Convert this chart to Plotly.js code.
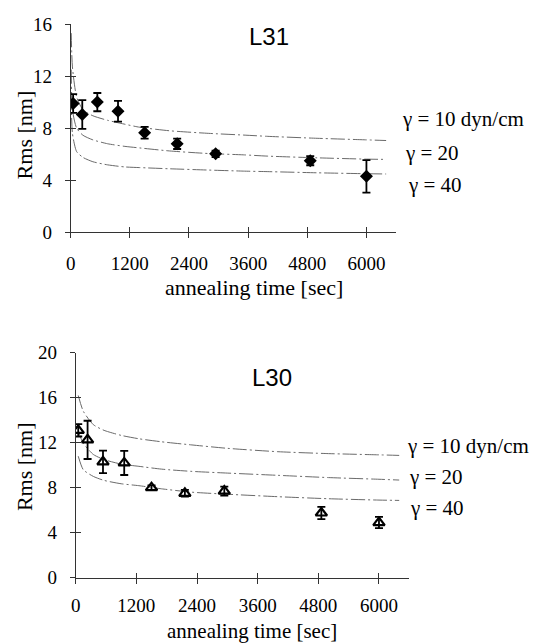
<!DOCTYPE html>
<html>
<head>
<meta charset="utf-8">
<script src="https://cdn.plot.ly/plotly-3.0.1.min.js"></script>
<style>html,body{margin:0;padding:0;background:#fff;}#chart{width:543px;height:643px;}</style>
</head>
<body>
<div id="chart"></div>
<script>
// ---------- data ----------
// L31 measurements (diamonds)
const timeL31 = [50, 235, 540, 960, 1500, 2160, 2940, 4860, 6000];
const rmsL31  = [9.9, 9.05, 10.0, 9.3, 7.65, 6.8, 6.03, 5.5, 4.3];
const errL31  = [0.72, 1.1, 0.7, 0.8, 0.45, 0.4, 0.25, 0.35, 1.25];
// L31 model curves
const curveTimeL31 = [10, 35, 120, 250, 450, 750, 1100, 1400, 2000, 2800, 3500, 4000, 5000, 6000, 6400];
const g10L31 = [15.3, 12.7, 10.4, 9.4, 8.95, 8.6, 8.3, 8.07, 7.8, 7.6, 7.47, 7.37, 7.22, 7.1, 7.05];
const g20L31 = [12.5, 9.4, 8.0, 7.45, 7.1, 6.8, 6.6, 6.48, 6.25, 6.05, 5.95, 5.85, 5.72, 5.62, 5.6];
const g40L31 = [10.5, 7.6, 6.2, 5.75, 5.42, 5.18, 5.02, 4.97, 4.88, 4.78, 4.7, 4.66, 4.57, 4.5, 4.48];

// L30 measurements (open triangles)
const timeL30 = [50, 235, 540, 960, 1500, 2160, 2940, 4860, 6000];
const rmsL30  = [13.1, 12.25, 10.3, 10.2, 8.0, 7.5, 7.7, 5.75, 4.9];
const errL30  = [0.55, 1.7, 1.0, 1.07, 0.2, 0.3, 0.4, 0.55, 0.5];
// L30 model curves
const curveTimeL30 = [50, 150, 350, 560, 900, 1250, 1700, 2300, 3000, 4000, 5000, 6000, 6400];
const g10L30 = [16.2, 14.8, 13.6, 13.1, 12.65, 12.35, 12.08, 11.8, 11.5, 11.2, 11.03, 10.92, 10.87];
const g20L30 = [13.0, 11.95, 10.95, 10.5, 10.1, 9.9, 9.65, 9.45, 9.3, 9.1, 8.9, 8.75, 8.68];
const g40L30 = [10.8, 9.6, 9.0, 8.65, 8.35, 8.18, 7.9, 7.6, 7.42, 7.2, 7.02, 6.9, 6.87];

const xTicks = [0, 1200, 2400, 3600, 4800, 6000];
const yTicksL31 = [0, 4, 8, 12, 16];
const yTicksL30 = [0, 4, 8, 12, 16, 20];
const curveLabels = ['γ = 10 dyn/cm', 'γ = 20', 'γ = 40'];

// ---------- styling ----------
const W = 543, H = 643;
const px = v => v / W, py = v => 1 - v / H;
const serif = '"Liberation Serif", "Times New Roman", serif';
const sans = '"Liberation Sans", Arial, sans-serif';
const curveLine = {color: '#6a6a6a', width: 1, dash: '14px,3px,2px,3px', shape: 'spline', smoothing: 0.6};

function curve(x, y, xa, ya) {
  return {x: x, y: y, xaxis: xa, yaxis: ya, mode: 'lines', line: curveLine,
          hoverinfo: 'skip', showlegend: false};
}

const traces = [
  curve(curveTimeL31, g10L31, 'x', 'y'),
  curve(curveTimeL31, g20L31, 'x', 'y'),
  curve(curveTimeL31, g40L31, 'x', 'y'),
  {x: timeL31, y: rmsL31, xaxis: 'x', yaxis: 'y', mode: 'markers', showlegend: false,
   marker: {symbol: 'diamond', size: 10, color: '#000'},
   error_y: {type: 'data', array: errL31, visible: true, color: '#000', thickness: 1.8, width: 4}},
  curve(curveTimeL30, g10L30, 'x2', 'y2'),
  curve(curveTimeL30, g20L30, 'x2', 'y2'),
  curve(curveTimeL30, g40L30, 'x2', 'y2'),
  {x: timeL30, y: rmsL30, xaxis: 'x2', yaxis: 'y2', mode: 'markers', showlegend: false,
   marker: {symbol: 'triangle-up-open', size: 10, color: '#000', line: {width: 2.2, color: '#000'}},
   error_y: {type: 'data', array: errL30, visible: true, color: '#000', thickness: 1.8, width: 4}},
  // dummy traces to create the "inside" tick overlay axes (cross ticks)
  {x: [null], y: [null], xaxis: 'x3', yaxis: 'y3', mode: 'markers', showlegend: false, hoverinfo: 'skip'},
  {x: [null], y: [null], xaxis: 'x4', yaxis: 'y4', mode: 'markers', showlegend: false, hoverinfo: 'skip'}
];

const tickFont = {family: serif, size: 19, color: '#000'};
function baseX(domain, anchor, standoff) {
  return {domain: domain, anchor: anchor, range: [0, 6600], tickvals: xTicks, ticktext: xTicks.map(String),
          ticks: 'outside', ticklen: 5, tickwidth: 1, tickcolor: '#333', showline: true, linecolor: '#333',
          linewidth: 1, showgrid: false, zeroline: false, tickfont: tickFont, ticklabelstandoff: standoff, fixedrange: true};
}
function baseY(domain, anchor, range, ticks) {
  return {domain: domain, anchor: anchor, range: range, tickvals: ticks, ticktext: ticks.map(String),
          ticks: 'outside', ticklen: 5, tickwidth: 1, tickcolor: '#333', showline: true, linecolor: '#333',
          linewidth: 1, showgrid: false, zeroline: false, tickfont: tickFont, ticklabelstandoff: 9, fixedrange: true};
}
function overX(over, anchor) {
  return {overlaying: over, anchor: anchor, range: [0, 6600], tickvals: xTicks, ticks: 'inside', ticklen: 5,
          tickwidth: 1, tickcolor: '#333', showticklabels: false, showline: false, showgrid: false, zeroline: false, fixedrange: true};
}
function overY(over, anchor, range, ticks) {
  return {overlaying: over, anchor: anchor, range: range, tickvals: ticks, ticks: 'inside', ticklen: 5,
          tickwidth: 1, tickcolor: '#333', showticklabels: false, showline: false, showgrid: false, zeroline: false, fixedrange: true};
}

const topX = [px(70.7), px(396)], topY = [py(232.3), py(24)];
const botX = [px(75.7), px(409.3)], botY = [py(577.7), py(352.7)];

function ann(text, x, y, font, opts) {
  return Object.assign({text: text, x: px(x), y: py(y), xref: 'paper', yref: 'paper', showarrow: false,
                        xanchor: 'center', yanchor: 'middle', font: font}, opts || {});
}
const titleFont = {family: serif, size: 22, color: '#000'};
const titleFontB = {family: serif, size: 21, color: '#000'};
const gFont = {family: serif, size: 21, color: '#000'};
const panelFont = {family: sans, size: 24, color: '#000'};

const annotations = [
  ann('L31', 269, 36.5, panelFont),
  ann('L30', 272, 377, panelFont),
  ann('annealing time [sec]', 254, 287, titleFont),
  ann('annealing time [sec]', 252, 631, titleFontB),
  ann('Rms [nm]', 24.4, 135, titleFont, {textangle: -90}),
  ann('Rms [nm]', 24.4, 466.7, titleFont, {textangle: -90}),
  ann(curveLabels[0], 400, 119, gFont, {xanchor: 'left'}),
  ann(curveLabels[1], 403, 153, gFont, {xanchor: 'left'}),
  ann(curveLabels[2], 405.5, 185.5, gFont, {xanchor: 'left'}),
  ann(curveLabels[0], 405, 446, gFont, {xanchor: 'left'}),
  ann(curveLabels[1], 407, 476.7, gFont, {xanchor: 'left'}),
  ann(curveLabels[2], 407.5, 508.3, gFont, {xanchor: 'left'})
];

const layout = {
  width: W, height: H, margin: {l: 0, r: 0, t: 0, b: 0},
  paper_bgcolor: '#fff', plot_bgcolor: 'rgba(0,0,0,0)', showlegend: false,
  xaxis: baseX(topX, 'y', 9),
  yaxis: baseY(topY, 'x', [0, 16], yTicksL31),
  xaxis2: baseX(botX, 'y2', 5),
  yaxis2: baseY(botY, 'x2', [0, 20], yTicksL30),
  xaxis3: overX('x', 'y'),
  yaxis3: overY('y', 'x', [0, 16], yTicksL31),
  xaxis4: overX('x2', 'y2'),
  yaxis4: overY('y2', 'x2', [0, 20], yTicksL30),
  annotations: annotations
};

Plotly.newPlot('chart', traces, layout, {staticPlot: true, displayModeBar: false});
</script>
</body>
</html>
